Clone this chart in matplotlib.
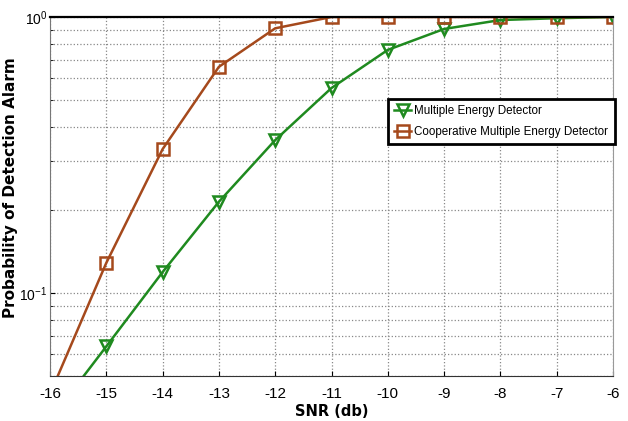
import matplotlib
matplotlib.use('Agg')
import matplotlib.pyplot as plt
from matplotlib.ticker import LogLocator, NullFormatter

snr = [-16, -15, -14, -13, -12, -11, -10, -9, -8, -7, -6]
p_med = [0.0346, 0.064, 0.119, 0.214, 0.358, 0.553, 0.76, 0.905, 0.975, 0.99, 1.0]
p_coop = [0.043, 0.1285, 0.332, 0.66, 0.91, 1.0, 1.0, 1.0, 1.0, 1.0, 1.0]

plt.rcParams['axes.unicode_minus'] = False
narrow = ['Liberation Sans Narrow', 'Liberation Sans', 'DejaVu Sans']
green = '#1f8a1f'
brown = '#a5491c'

fig = plt.figure(figsize=(6.28, 4.21), dpi=100)
ax = fig.add_axes([50 / 628, 1 - 376 / 421, 563 / 628, 359 / 421])

ax.plot(snr, p_med, color=green, lw=1.8, marker='v', ms=9, mfc='none',
        mew=1.8, label='Multiple Energy Detector')
ax.plot(snr, p_coop, color=brown, lw=1.8, marker='s', ms=9, mfc='none',
        mew=1.8, label='Cooperative Multiple Energy Detector')

ax.set_yscale('log')
ax.set_xlim(-16, -6)
ax.set_ylim(0.05, 1.0)
ax.set_xticks(snr)
ax.yaxis.set_major_locator(LogLocator(base=10))
ax.yaxis.set_minor_locator(LogLocator(base=10, subs=range(2, 10)))
ax.yaxis.set_minor_formatter(NullFormatter())

ax.grid(True, which='both', ls=':', color='#888888', lw=0.9)
ax.tick_params(which='both', direction='in', labelsize=11)
ax.tick_params(axis='x', pad=8)
ax.tick_params(axis='y', labelsize=10, pad=2)
for lbl in ax.get_xticklabels() + ax.get_yticklabels():
    lbl.set_family(narrow)

ax.spines['top'].set_linewidth(1.6)
ax.spines['bottom'].set_color('#333333')
ax.spines['left'].set_color('#777777')
ax.spines['right'].set_color('#999999')

ax.set_xlabel('SNR (db)', fontsize=10.5, fontweight='bold', labelpad=2)
ax.set_ylabel('Probability of Detection Alarm', fontsize=11,
              fontweight='bold')
ax.yaxis.set_label_coords(-0.056, 0.526)

leg = ax.legend(loc='upper left', bbox_to_anchor=(338 / 563, 1 - 82 / 359),
                prop={'family': narrow, 'size': 8.4}, fancybox=False,
                framealpha=1, edgecolor='black', borderpad=0.55,
                handlelength=1.4, handletextpad=0.3, labelspacing=0.7,
                borderaxespad=0)
leg.get_frame().set_linewidth(2)

fig.savefig('out.png', dpi=100)
